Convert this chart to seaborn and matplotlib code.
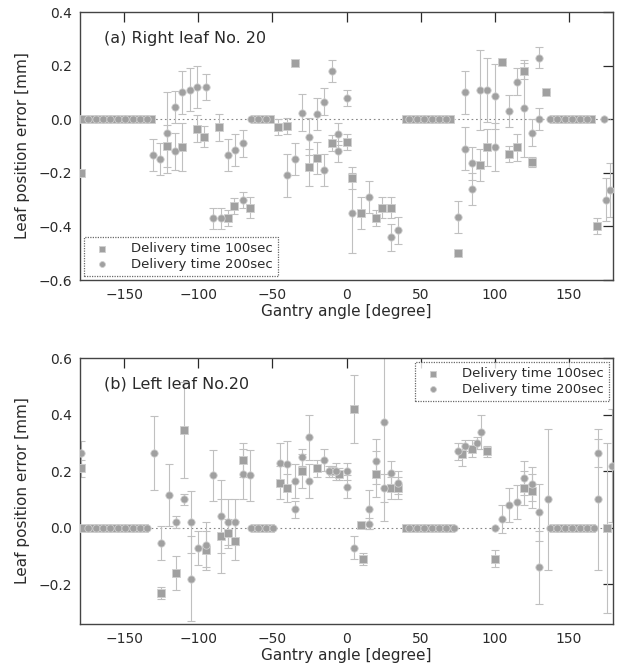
import numpy as np
import pandas as pd
import matplotlib
matplotlib.use("Agg")
import matplotlib.pyplot as plt
import seaborn as sns

sns.set_theme(style="white")
plt.rcParams['font.family'] = ['DejaVu Sans']

# ---------------- Panel (a) Right leaf No. 20 ----------------
a100_x = [-179, -121, -111, -101, -96, -86, -80, -76, -65, -46, -40, -35, -25, -20, -10, 0, 4, 10, 20, 24, 30, 75, 90, 95, 105, 110, 115, 120, 125, 135, 169]
a100_y = [-0.20, -0.10, -0.105, -0.035, -0.065, -0.03, -0.37, -0.325, -0.33, -0.03, -0.025, 0.21, -0.18, -0.145, -0.09, -0.085, -0.22, -0.35, -0.37, -0.33, -0.33, -0.50, -0.17, -0.105, 0.215, -0.13, -0.105, 0.18, -0.16, 0.10, -0.40]
a100_e = [0, 0.08, 0.09, 0.05, 0.04, 0.05, 0.03, 0.03, 0.04, 0.03, 0.03, 0, 0.07, 0.06, 0.03, 0.03, 0.04, 0.06, 0.03, 0.04, 0.04, 0, 0.06, 0.07, 0, 0.03, 0.05, 0.03, 0.02, 0, 0.03]

a200_x = [-131, -126, -121, -116, -116, -111, -106, -101, -95, -90, -85, -80, -75, -70, -70, -40, -35, -30, -25, -20, -15, -15, -10, -6, -6, 0, 4, 15, 30, 35, 75, 80, 80, 85, 85, 90, 95, 100, 100, 110, 115, 120, 125, 130, 130, 175, 178]
a200_y = [-0.135, -0.15, -0.05, 0.045, -0.12, 0.10, 0.11, 0.12, 0.12, -0.37, -0.37, -0.135, -0.115, -0.09, -0.30, -0.21, -0.15, 0.025, -0.065, 0.02, 0.065, -0.19, 0.18, -0.055, -0.12, 0.08, -0.35, -0.29, -0.44, -0.415, -0.365, 0.10, -0.11, -0.165, -0.26, 0.11, 0.11, 0.085, -0.105, 0.03, 0.14, 0.04, -0.05, 0.23, 0.0, -0.30, -0.265]
a200_e = [0.06, 0.06, 0.15, 0.06, 0.07, 0.08, 0.08, 0.08, 0.05, 0.04, 0.04, 0.06, 0.06, 0.05, 0.03, 0.08, 0.06, 0.07, 0.07, 0.06, 0.05, 0.06, 0.04, 0.04, 0.04, 0.03, 0.15, 0.06, 0.05, 0.05, 0.06, 0.08, 0.08, 0.06, 0.06, 0.15, 0.12, 0.12, 0.09, 0.06, 0.05, 0.18, 0.05, 0.04, 0.04, 0.08, 0.10]

a100_zero = [-177, -172, -167, -162, -157, -152, -147, -142, -137, -132, -62, -57, -52, 40, 45, 50, 55, 60, 65, 70, 140, 145, 150, 155, 160, 165]
a200_zero = [-174.5, -169.5, -164.5, -159.5, -154.5, -149.5, -144.5, -139.5, -134.5, -64.5, -59.5, -54.5, 42.5, 47.5, 52.5, 57.5, 62.5, 67.5, 137.5, 142.5, 147.5, 152.5, 157.5, 162.5, 174]

# ---------------- Panel (b) Left leaf No.20 ----------------
b100_x = [-179, -125, -115, -110, -95, -85, -80, -75, -70, -45, -40, -30, -20, -10, -5, 5, 11, 10, 20, 30, 35, 78, 85, 95, 100, 120, 125, 176]
b100_y = [0.21, -0.23, -0.16, 0.345, -0.08, -0.03, -0.02, -0.045, 0.24, 0.16, 0.14, 0.20, 0.21, 0.20, 0.19, 0.42, -0.11, 0.01, 0.19, 0.14, 0.14, 0.26, 0.28, 0.27, -0.11, 0.14, 0.13, 0.0]
b100_e = [0.03, 0.02, 0.06, 0.17, 0.07, 0.13, 0.05, 0.07, 0.06, 0.06, 0.05, 0.06, 0.03, 0.02, 0.02, 0.12, 0.02, 0.01, 0.08, 0.04, 0.04, 0.04, 0.03, 0.02, 0.03, 0.06, 0.06, 0.30]

b200_x = [-179, -130, -125, -120, -115, -110, -105, -105, -100, -95, -90, -85, -80, -75, -70, -65, -45, -40, -35, -35, -30, -25, -25, -15, -12, -7, 0, 0, 5, 15, 15, 20, 25, 25, 30, 35, 75, 80, 88, 91, 100, 105, 110, 115, 120, 125, 130, 130, 136, 170, 170, 179]
b200_y = [0.265, 0.265, -0.055, 0.115, 0.02, 0.10, 0.02, -0.18, -0.07, -0.06, 0.185, 0.04, 0.02, 0.02, 0.19, 0.185, 0.23, 0.225, 0.165, 0.065, 0.25, 0.32, 0.165, 0.24, 0.20, 0.20, 0.20, 0.145, -0.07, 0.065, 0.015, 0.235, 0.375, 0.14, 0.195, 0.16, 0.27, 0.29, 0.30, 0.34, 0.0, 0.03, 0.08, 0.09, 0.175, 0.155, 0.055, -0.14, 0.10, 0.265, 0.10, 0.22]
b200_e = [0.04, 0.13, 0.06, 0.11, 0.02, 0.02, 0.11, 0.15, 0.06, 0.08, 0.09, 0.13, 0.08, 0.08, 0.09, 0.09, 0.07, 0.08, 0.06, 0.03, 0.03, 0.08, 0.06, 0.04, 0.02, 0.03, 0.03, 0.04, 0.04, 0.07, 0.02, 0.08, 0.35, 0.05, 0.04, 0.04, 0.03, 0.02, 0.02, 0.06, 0.0, 0.05, 0.06, 0.06, 0.06, 0.06, 0.10, 0.13, 0.25, 0.05, 0.25, 0.20]

b100_zero = [-177, -172, -167, -162, -157, -152, -147, -142, -137, -62, -57, -52, 40, 45, 50, 55, 60, 65, 70, 140, 145, 150, 155, 160, 165]
b200_zero = [-174.5, -169.5, -164.5, -159.5, -154.5, -149.5, -144.5, -139.5, -134.5, -64.5, -59.5, -54.5, -49.5, 42.5, 47.5, 52.5, 57.5, 62.5, 67.5, 72.5, 137.5, 142.5, 147.5, 152.5, 157.5, 162.5, 167.5]

x_ticks = [-150, -100, -50, 0, 50, 100, 150]
labels = ["Delivery time 100sec", "Delivery time 200sec"]

MC = "#a0a0a0"
EC = "#c0c0c0"
TC = "#2a2a2a"

fig = plt.figure(figsize=(6.22, 6.72), dpi=100)
axA = fig.add_axes([80/622, 1-280/672, (613-80)/622, (280-12)/672])
axB = fig.add_axes([80/622, 1-624/672, (613-80)/622, (624-358)/672])


def draw(ax, x100, y100, e100, x200, y200, e200, z100, z200):
    ax.axhline(0, color="#888888", lw=0.8, ls=(0, (1.5, 2.5)), zorder=1)
    ax.errorbar(x100, y100, yerr=e100, fmt="none", ecolor=EC, elinewidth=0.8,
                capsize=3, capthick=0.8, zorder=2)
    ax.errorbar(x200, y200, yerr=e200, fmt="none", ecolor=EC, elinewidth=0.8,
                capsize=3, capthick=0.8, zorder=2)
    d100 = pd.DataFrame({"angle": list(x100) + list(z100),
                         "err": list(y100) + [0.0] * len(z100)})
    d200 = pd.DataFrame({"angle": list(x200) + list(z200),
                         "err": list(y200) + [0.0] * len(z200)})
    sns.scatterplot(data=d100, x="angle", y="err", ax=ax, marker="s", s=26,
                    color=MC, edgecolor="#cfcfcf", linewidth=0.6, zorder=3,
                    label=labels[0])
    sns.scatterplot(data=d200, x="angle", y="err", ax=ax, marker="o", s=28,
                    color=MC, edgecolor="#cfcfcf", linewidth=0.6, zorder=3,
                    label=labels[1])
    ax.set_xlim(-180, 180)
    ax.set_xticks(x_ticks)
    ax.set_xticklabels([f"{t:d}".replace("-", "\u2212") for t in x_ticks])
    ax.set_xlabel("Gantry angle [degree]", fontsize=11, color=TC, labelpad=1)
    ax.set_ylabel("Leaf position error [mm]", fontsize=11, color=TC, labelpad=6)
    ax.tick_params(direction="in", length=7, width=0.9, colors=TC, labelsize=10,
                   top=True, right=True, pad=6)
    for s in ax.spines.values():
        s.set_color("#444444")
        s.set_linewidth(1.0)
    ax.grid(False)


draw(axA, a100_x, a100_y, a100_e, a200_x, a200_y, a200_e, a100_zero, a200_zero)
draw(axB, b100_x, b100_y, b100_e, b200_x, b200_y, b200_e, b100_zero, b200_zero)

axA.set_ylim(-0.6, 0.4)
axA.set_yticks([-0.6, -0.4, -0.2, 0.0, 0.2, 0.4])
axA.set_yticklabels([f"{v:.1f}".replace("-", "\u2212") for v in [-0.6, -0.4, -0.2, 0.0, 0.2, 0.4]])
axB.set_ylim(-0.34, 0.6)
axB.set_yticks([-0.2, 0.0, 0.2, 0.4, 0.6])
axB.set_yticklabels([f"{v:.1f}".replace("-", "\u2212") for v in [-0.2, 0.0, 0.2, 0.4, 0.6]])

axA.text(0.045, 0.93, "(a) Right leaf No. 20", transform=axA.transAxes,
         fontsize=11.5, color=TC, va="top", ha="left")
axB.text(0.045, 0.93, "(b) Left leaf No.20", transform=axB.transAxes,
         fontsize=11.5, color=TC, va="top", ha="left")

for ax, loc in [(axA, "lower left"), (axB, "upper right")]:
    leg = ax.legend(loc=loc, fontsize=9.5, frameon=True, fancybox=False,
                    borderaxespad=0.3, handletextpad=1.2, borderpad=0.4,
                    labelspacing=0.2, markerscale=0.8)
    leg.get_frame().set_edgecolor("#444444")
    leg.get_frame().set_linewidth(0.9)
    leg.get_frame().set_linestyle((0, (1, 1)))
    for t in leg.get_texts():
        t.set_color(TC)

fig.savefig("out.png", dpi=100)
